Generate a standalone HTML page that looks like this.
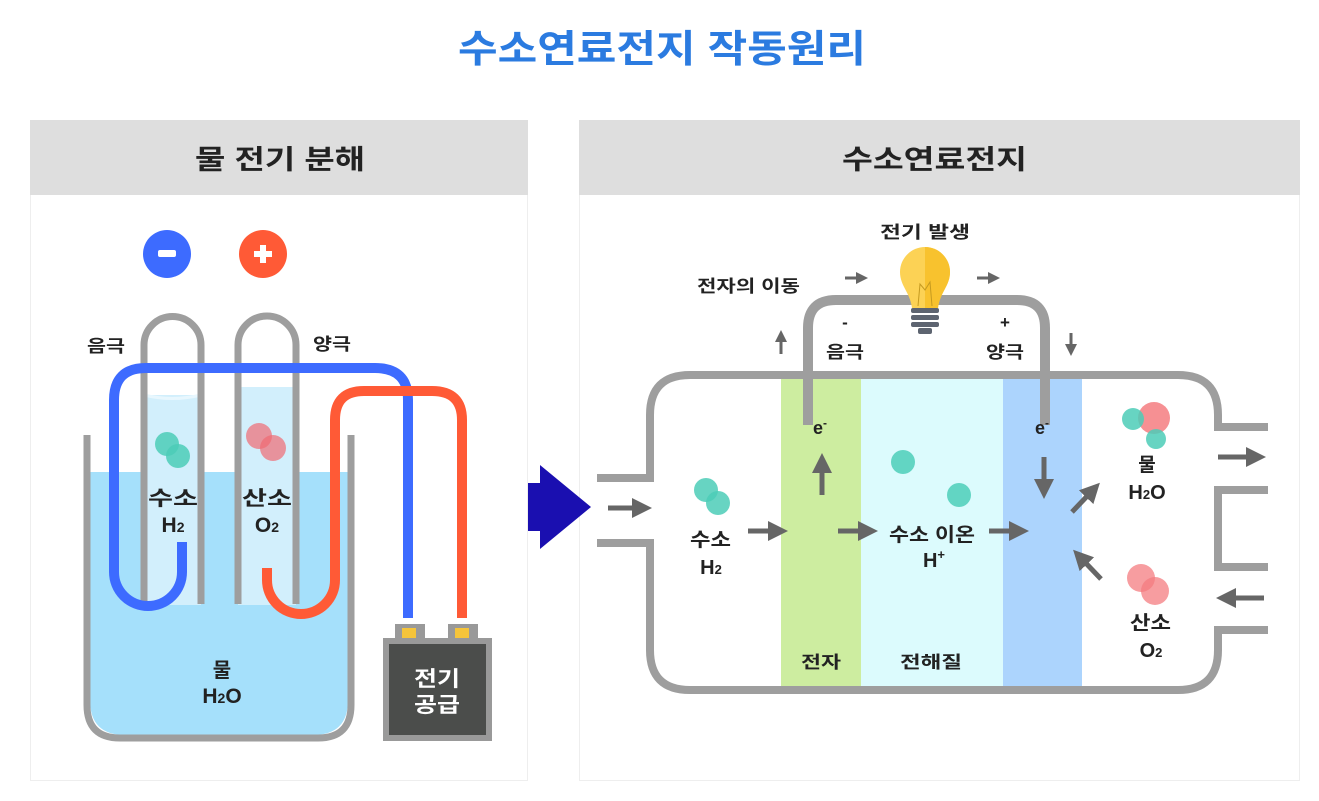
<!DOCTYPE html>
<html><head><meta charset="utf-8"><style>
html,body{margin:0;padding:0;background:#fff;}
svg text{font-family:"Liberation Sans","Noto Sans CJK KR",sans-serif;font-weight:bold;}
</style></head><body>
<svg width="1319" height="796" viewBox="0 0 1319 796" xmlns="http://www.w3.org/2000/svg">
<defs>
<marker id="ah" markerWidth="4" markerHeight="4" refX="2" refY="2" orient="auto" markerUnits="strokeWidth"><path d="M0,0 L4,2 L0,4 z" fill="#666"/></marker>
</defs>
<rect width="1319" height="796" fill="#fff"/>
<text x="458" y="62" font-size="38" fill="#2b7be0" textLength="408" lengthAdjust="spacingAndGlyphs">수소연료전지 작동원리</text>

<!-- panels -->
<rect x="30.5" y="120.5" width="497" height="660" fill="#fff" stroke="#eee"/>
<rect x="30" y="120" width="498" height="75" fill="#dedede"/>
<text x="195" y="169" font-size="27" fill="#222" textLength="170" lengthAdjust="spacingAndGlyphs">물 전기 분해</text>
<rect x="579.5" y="120.5" width="720" height="660" fill="#fff" stroke="#eee"/>
<rect x="579" y="120" width="721" height="75" fill="#dedede"/>
<text x="842" y="169" font-size="27" fill="#222" textLength="185" lengthAdjust="spacingAndGlyphs">수소연료전지</text>

<!-- LEFT -->
<circle cx="167" cy="254" r="24" fill="#3d6bff"/>
<rect x="158" y="250" width="18" height="7" rx="2" fill="#fff"/>
<circle cx="263" cy="254" r="24" fill="#ff5a36"/>
<rect x="254" y="251" width="18" height="6" fill="#fff"/><rect x="260" y="245" width="6" height="18" fill="#fff"/>

<path d="M90,472 H348 V700 Q348,735 313,735 H125 Q90,735 90,700 Z" fill="#a5e0fb"/>
<rect x="144" y="395" width="57" height="210" fill="#d2effc"/>
<rect x="238" y="387" width="58" height="218" fill="#d2effc"/>
<path d="M144,395 Q172,402 201,395" stroke="#e8f7fe" stroke-width="3" fill="none"/>
<path d="M144,604 V345 A28.5,28.5 0 0 1 201,345 V604" fill="none" stroke="#9e9e9e" stroke-width="7"/>
<path d="M238,604 V345 A29,29 0 0 1 296,345 V604" fill="none" stroke="#9e9e9e" stroke-width="7"/>
<path d="M87,435 V705 Q87,738 120,738 H318 Q351,738 351,705 V435" fill="none" stroke="#9e9e9e" stroke-width="7"/>
<circle cx="167" cy="444" r="12" fill="#4ccdb7" opacity="0.85"/>
<circle cx="178" cy="456" r="12" fill="#4ccdb7" opacity="0.85"/>
<circle cx="259" cy="436" r="13" fill="#f06b73" opacity="0.7"/>
<circle cx="273" cy="448" r="13" fill="#f06b73" opacity="0.7"/>
<text x="148" y="505" font-size="20" fill="#222" textLength="50" lengthAdjust="spacingAndGlyphs">수소</text>
<text x="173" y="532" font-size="21" fill="#222" text-anchor="middle">H<tspan font-size="14">2</tspan></text>
<text x="242" y="505" font-size="20" fill="#222" textLength="50" lengthAdjust="spacingAndGlyphs">산소</text>
<text x="267" y="532" font-size="21" fill="#222" text-anchor="middle">O<tspan font-size="14">2</tspan></text>
<text x="222" y="677" font-size="20" fill="#222" text-anchor="middle">물</text>
<text x="222" y="703" font-size="21" fill="#222" text-anchor="middle">H<tspan font-size="14">2</tspan>O</text>
<path d="M182,542 V572 A34,34 0 0 1 114,572 V400 Q114,368 146,368 H375 Q408,368 408,400 V618" fill="none" stroke="#3d6bff" stroke-width="10"/>
<path d="M267,568 V580 A34,34 0 0 0 335,580 V420 Q335,391 364,391 H432 Q462,391 462,420 V618" fill="none" stroke="#ff5a36" stroke-width="10"/>
<text x="87" y="352" font-size="17" fill="#222" textLength="38" lengthAdjust="spacingAndGlyphs">음극</text>
<text x="313" y="350" font-size="17" fill="#222" textLength="38" lengthAdjust="spacingAndGlyphs">양극</text>
<rect x="395" y="624" width="30" height="18" fill="#999"/>
<rect x="448" y="624" width="30" height="18" fill="#999"/>
<rect x="402" y="628" width="14" height="13" fill="#f5c43a"/>
<rect x="455" y="628" width="14" height="13" fill="#f5c43a"/>
<rect x="383" y="638" width="109" height="103" fill="#999"/>
<rect x="389" y="644" width="97" height="91" fill="#4b4d4b"/>
<text x="414" y="686" font-size="21" fill="#fff" textLength="46" lengthAdjust="spacingAndGlyphs">전기</text>
<text x="414" y="712" font-size="21" fill="#fff" textLength="46" lengthAdjust="spacingAndGlyphs">공급</text>

<rect x="528" y="483" width="20" height="48" fill="#1a0fb0"/>
<path d="M540,465 L591,507 L540,549 Z" fill="#1a0fb0"/>

<!-- RIGHT -->
<rect x="781" y="378" width="80" height="310" fill="#cdeda0"/>
<rect x="861" y="378" width="142" height="310" fill="#dcfbfd"/>
<rect x="1003" y="378" width="79" height="310" fill="#acd4fd"/>
<path d="M597,478 H650 V415 Q650,375 690,375 H1178 Q1218,375 1218,415 V427 H1268" fill="none" stroke="#9e9e9e" stroke-width="8"/>
<path d="M1268,490 H1218 V567 H1268" fill="none" stroke="#9e9e9e" stroke-width="8"/>
<path d="M1268,630 H1218 V650 Q1218,690 1178,690 H690 Q650,690 650,650 V543 H597" fill="none" stroke="#9e9e9e" stroke-width="8"/>
<path d="M808,425 V328 Q808,300 836,300 H1017 Q1045,300 1045,328 V425" fill="none" stroke="#9e9e9e" stroke-width="10"/>
<path d="M925,247 A25,25 0 0 1 950,272 C950,286 940,292 938,308 H912 C910,292 900,286 900,272 A25,25 0 0 1 925,247 Z" fill="#fcd255"/>
<path d="M925,247 A25,25 0 0 1 950,272 C950,286 940,292 938,308 H925 Z" fill="#f8c22e"/>
<path d="M918,306 L920,284 L925,290 L930,282 L932,306" fill="none" stroke="#c59a20" stroke-width="1"/>
<rect x="911" y="308" width="28" height="5" rx="2" fill="#5d6470"/>
<rect x="911" y="315" width="28" height="5" rx="2" fill="#5d6470"/>
<rect x="911" y="322" width="28" height="5" rx="2" fill="#5d6470"/>
<rect x="918" y="328" width="14" height="6" rx="2" fill="#5d6470"/>
<text x="880" y="238" font-size="17" fill="#222" textLength="90" lengthAdjust="spacingAndGlyphs">전기 발생</text>
<text x="697" y="292" font-size="17" fill="#222" textLength="103" lengthAdjust="spacingAndGlyphs">전자의 이동</text>
<g stroke="#666" stroke-width="3" fill="none" marker-end="url(#ah)">
<line x1="845" y1="278" x2="862" y2="278"/>
<line x1="977" y1="278" x2="994" y2="278"/>
<line x1="781" y1="354" x2="781" y2="336"/>
<line x1="1071" y1="333" x2="1071" y2="350"/>
</g>
<text x="845" y="328" font-size="17" fill="#222" text-anchor="middle">-</text>
<text x="826" y="358" font-size="17" fill="#222" textLength="38" lengthAdjust="spacingAndGlyphs">음극</text>
<text x="1005" y="328" font-size="17" fill="#222" text-anchor="middle">+</text>
<text x="986" y="358" font-size="17" fill="#222" textLength="38" lengthAdjust="spacingAndGlyphs">양극</text>

<g stroke="#666" stroke-width="5" fill="none" marker-end="url(#ah)">
<line x1="608" y1="508" x2="642" y2="508"/>
<line x1="748" y1="531" x2="778" y2="531"/>
<line x1="838" y1="531" x2="868" y2="531"/>
<line x1="989" y1="531" x2="1019" y2="531"/>
<line x1="822" y1="495" x2="822" y2="463"/>
<line x1="1044" y1="457" x2="1044" y2="489"/>
<line x1="1072" y1="512" x2="1093" y2="490"/>
<line x1="1101" y1="579" x2="1080" y2="557"/>
<line x1="1218" y1="457" x2="1256" y2="457"/>
<line x1="1264" y1="598" x2="1226" y2="598"/>
</g>
<circle cx="706" cy="490" r="12" fill="#4ccdb7" opacity="0.85"/>
<circle cx="718" cy="503" r="12" fill="#4ccdb7" opacity="0.85"/>
<circle cx="903" cy="462" r="12" fill="#62d5c3"/>
<circle cx="959" cy="495" r="12" fill="#62d5c3"/>
<circle cx="1154" cy="418" r="16" fill="#f47c80" opacity="0.85"/>
<circle cx="1133" cy="419" r="11" fill="#4ccdb7" opacity="0.85"/>
<circle cx="1156" cy="439" r="10" fill="#4ccdb7" opacity="0.85"/>
<circle cx="1141" cy="578" r="14" fill="#f47c80" opacity="0.75"/>
<circle cx="1155" cy="591" r="14" fill="#f47c80" opacity="0.75"/>
<text x="690" y="546" font-size="19" fill="#222" textLength="41" lengthAdjust="spacingAndGlyphs">수소</text>
<text x="711" y="574" font-size="20" fill="#222" text-anchor="middle">H<tspan font-size="13">2</tspan></text>
<text x="889" y="541" font-size="19" fill="#222" textLength="86" lengthAdjust="spacingAndGlyphs">수소 이온</text>
<text x="934" y="567" font-size="20" fill="#222" text-anchor="middle">H<tspan font-size="13" dy="-8">+</tspan></text>
<text x="820" y="434" font-size="18" fill="#222" text-anchor="middle">e<tspan font-size="12" dy="-7">-</tspan></text>
<text x="1042" y="434" font-size="18" fill="#222" text-anchor="middle">e<tspan font-size="12" dy="-7">-</tspan></text>
<text x="1147" y="471" font-size="19" fill="#222" text-anchor="middle">물</text>
<text x="1147" y="499" font-size="20" fill="#222" text-anchor="middle">H<tspan font-size="13">2</tspan>O</text>
<text x="1130" y="629" font-size="19" fill="#222" textLength="41" lengthAdjust="spacingAndGlyphs">산소</text>
<text x="1151" y="657" font-size="20" fill="#222" text-anchor="middle">O<tspan font-size="13">2</tspan></text>
<text x="801" y="668" font-size="17" fill="#222" textLength="40" lengthAdjust="spacingAndGlyphs">전자</text>
<text x="900" y="668" font-size="17" fill="#222" textLength="62" lengthAdjust="spacingAndGlyphs">전해질</text>
</svg>
</body></html>
